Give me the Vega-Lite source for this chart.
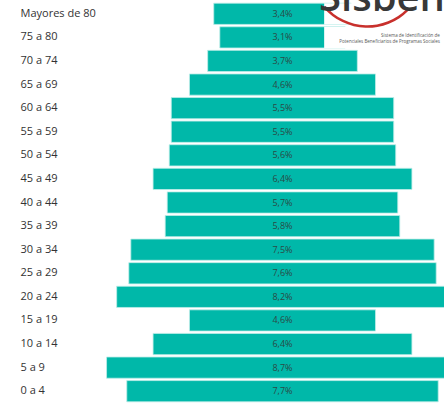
{
  "$schema": "https://vega.github.io/schema/vega-lite/v6.json",
  "width": 344,
  "height": 401,
  "autosize": {"type": "none"},
  "padding": {"left": 100, "top": 2, "right": 0, "bottom": 0},
  "background": "white",
  "config": {"view": {"stroke": null}, "font": "Open Sans"},
  "datasets": {
    "pyr": [
      {"grupo": "Mayores de 80", "pct": 3.4, "etiqueta": "3,4%"},
      {"grupo": "75 a 80", "pct": 3.1, "etiqueta": "3,1%"},
      {"grupo": "70 a 74", "pct": 3.7, "etiqueta": "3,7%"},
      {"grupo": "65 a 69", "pct": 4.6, "etiqueta": "4,6%"},
      {"grupo": "60 a 64", "pct": 5.5, "etiqueta": "5,5%"},
      {"grupo": "55 a 59", "pct": 5.5, "etiqueta": "5,5%"},
      {"grupo": "50 a 54", "pct": 5.6, "etiqueta": "5,6%"},
      {"grupo": "45 a 49", "pct": 6.4, "etiqueta": "6,4%"},
      {"grupo": "40 a 44", "pct": 5.7, "etiqueta": "5,7%"},
      {"grupo": "35 a 39", "pct": 5.8, "etiqueta": "5,8%"},
      {"grupo": "30 a 34", "pct": 7.5, "etiqueta": "7,5%"},
      {"grupo": "25 a 29", "pct": 7.6, "etiqueta": "7,6%"},
      {"grupo": "20 a 24", "pct": 8.2, "etiqueta": "8,2%"},
      {"grupo": "15 a 19", "pct": 4.6, "etiqueta": "4,6%"},
      {"grupo": "10 a 14", "pct": 6.4, "etiqueta": "6,4%"},
      {"grupo": "5 a 9", "pct": 8.7, "etiqueta": "8,7%"},
      {"grupo": "0 a 4", "pct": 7.7, "etiqueta": "7,7%"}
    ],
    "logo": [
      {"grupo": "Mayores de 80", "ini": 5.38, "fin": 9},
      {"grupo": "75 a 80", "ini": 5.38, "fin": 9}
    ],
    "logotexto": [
      {"grupo": "Mayores de 80", "pos": 6.81, "t": "Sisben"}
    ],
    "logoarco": [
      {"grupo": "Mayores de 80", "pos": 6.45}
    ],
    "logocaption": [
      {"grupo": "75 a 80", "pos": 8.24, "l1": "Sistema de Identificación de", "l2": "Potenciales Beneficiarios de Programas Sociales"}
    ]
  },
  "layer": [
    {
      "data": {"name": "pyr"},
      "mark": {"type": "bar", "color": "#00B8A9", "stroke": "#bfeee9", "strokeWidth": 0.8, "clip": true},
      "encoding": {
        "y": {
          "field": "grupo", "type": "nominal", "sort": null,
          "scale": {"paddingInner": 0.1, "paddingOuter": 0.05},
          "axis": {"title": null, "domain": false, "ticks": false, "tickSize": 0, "labelAlign": "left", "labelPadding": 80, "labelFontSize": 11, "labelColor": "#333333", "labelFont": "Open Sans"}
        },
        "x": {
          "field": "pct", "type": "quantitative", "stack": "center",
          "scale": {"domain": [-0.162, 8.343], "nice": false, "zero": false},
          "axis": null
        }
      }
    },
    {
      "data": {"name": "pyr"},
      "mark": {"type": "text", "fontSize": 9, "color": "#2b4a46", "font": "Open Sans"},
      "encoding": {
        "y": {"field": "grupo", "type": "nominal", "sort": null},
        "x": {"datum": 4.35},
        "text": {"field": "etiqueta"}
      }
    },
    {
      "data": {"name": "logo"},
      "mark": {"type": "bar", "color": "white", "clip": true},
      "encoding": {
        "y": {"field": "grupo", "type": "nominal", "sort": null},
        "x": {"field": "ini", "type": "quantitative"},
        "x2": {"field": "fin"}
      }
    },
    {
      "data": {"name": "logoarco"},
      "mark": {"type": "arc", "radius": 58, "radius2": 55.5, "theta": 2.35, "theta2": 4.0, "yOffset": -44, "color": "#c8302c"},
      "encoding": {
        "y": {"field": "grupo", "type": "nominal", "sort": null},
        "x": {"field": "pos", "type": "quantitative"}
      }
    },
    {
      "data": {"name": "logotexto"},
      "mark": {"type": "text", "fontSize": 40, "fontWeight": 600, "baseline": "alphabetic", "dy": -3, "color": "#383838", "font": "Open Sans"},
      "encoding": {
        "y": {"field": "grupo", "type": "nominal", "sort": null},
        "x": {"field": "pos", "type": "quantitative"},
        "text": {"field": "t"}
      }
    },
    {
      "data": {"name": "logocaption"},
      "mark": {"type": "text", "fontSize": 4.5, "align": "right", "baseline": "middle", "dy": -1, "color": "#555555"},
      "encoding": {
        "y": {"field": "grupo", "type": "nominal", "sort": null},
        "x": {"field": "pos", "type": "quantitative"},
        "text": {"field": "l1"}
      }
    },
    {
      "data": {"name": "logocaption"},
      "mark": {"type": "text", "fontSize": 4.5, "align": "right", "baseline": "middle", "dy": 5, "color": "#555555"},
      "encoding": {
        "y": {"field": "grupo", "type": "nominal", "sort": null},
        "x": {"field": "pos", "type": "quantitative"},
        "text": {"field": "l2"}
      }
    }
  ]
}
